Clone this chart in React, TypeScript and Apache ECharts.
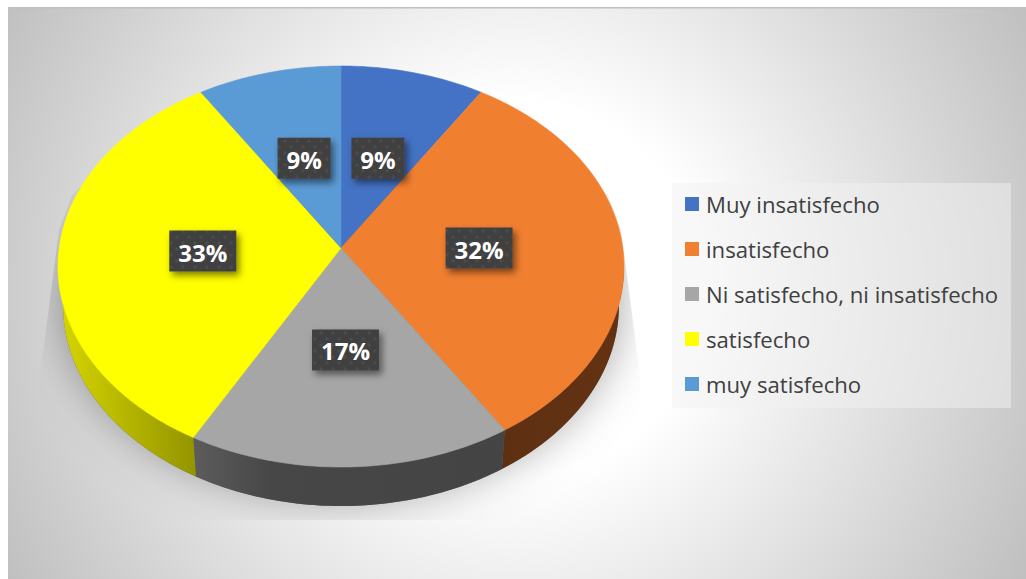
import React, { useEffect, useRef } from "react";
import * as echarts from "echarts";

const categories = [
  "Muy insatisfecho",
  "insatisfecho",
  "Ni satisfecho, ni insatisfecho",
  "satisfecho",
  "muy satisfecho",
];
const percentages = [9, 32, 17, 33, 9];
const sliceColors = ["#4472c4", "#f17f30", "#a6a6a6", "#ffff00", "#5b9bd5"];

// Side wall shading per slice: [start x, end x, stops]; back slices show no wall.
const wallFills: ([number, number, [number, string][]] | null)[] = [
  null,
  [503, 620, [[0, "#5e3012"], [1, "#633213"]]],
  [193, 500, [[0, "#5c5c5c"], [0.25, "#474747"], [1, "#444444"]]],
  [58, 196, [[0, "#d6d600"], [1, "#949400"]]],
  null,
];

// Tilted disc: perspective projection of a unit circle, angles clockwise from the top.
const CX = 341;
const CY = 248;
const SX = 281.8;
const SY = 198.8;
const K = 0.0923;
const DEPTH = 39;
const FLOOR_SCALE = 0.982;
const WALL_FROM = 95.3;
const WALL_TO = 264.7;

function project(deg: number, rho = 1): [number, number] {
  const a = (deg * Math.PI) / 180;
  const u = rho * Math.sin(a);
  const v = -rho * Math.cos(a);
  const w = 1 - K * v;
  return [CX + (SX * u) / w, CY + (SY * v) / w];
}

function floor(p: [number, number]): [number, number] {
  return [CX + (p[0] - CX) * FLOOR_SCALE, p[1] + DEPTH];
}

function arc(from: number, to: number): [number, number][] {
  const n = Math.max(2, Math.ceil(to - from));
  const pts: [number, number][] = [];
  for (let i = 0; i <= n; i++) pts.push(project(from + ((to - from) * i) / n));
  return pts;
}

function dotPattern(): HTMLCanvasElement {
  const c = document.createElement("canvas");
  c.width = 12;
  c.height = 12;
  const g = c.getContext("2d")!;
  g.fillStyle = "#404040";
  g.fillRect(0, 0, 12, 12);
  g.fillStyle = "#4b4b4b";
  for (const [x, y] of [[3, 3], [9, 9]]) {
    g.beginPath();
    g.arc(x, y, 1.8, 0, Math.PI * 2);
    g.fill();
  }
  return c;
}

function buildOption() {
  const total = percentages.reduce((s, v) => s + v, 0);
  const pattern = dotPattern();
  let running = 0;

  const sliceSeries = categories.map((name, idx) => {
    const startDeg = (running / total) * 360;
    running += percentages[idx];
    const endDeg = (running / total) * 360;
    return {
      type: "custom",
      name,
      coordinateSystem: "none",
      silent: true,
      z: 3,
      itemStyle: { color: sliceColors[idx] },
      data: [[percentages[idx]]],
      renderItem: (_p: any, api: any) => {
        const value = api.value(0);
        const children: any[] = [];
        const wall = wallFills[idx];
        if (wall) {
          const from = Math.max(startDeg, WALL_FROM);
          const to = Math.min(endDeg, WALL_TO);
          const upper = arc(from, to);
          const lower = upper.map(floor).reverse();
          const fill = new echarts.graphic.LinearGradient(
            wall[0], 0, wall[1], 0,
            wall[2].map(([offset, color]) => ({ offset, color })),
            true
          );
          children.push({
            type: "polygon",
            shape: { points: [...upper, ...lower] },
            style: { fill },
          });
        }
        children.push({
          type: "polygon",
          shape: { points: [[CX, CY], ...arc(startDeg, endDeg)] },
          style: { fill: sliceColors[idx], stroke: sliceColors[idx], lineWidth: 0.6 },
        });
        const text = `${value}%`;
        const [lx, ly] = project((startDeg + endDeg) / 2, 0.49);
        const bw = text.length > 2 ? 67 : 53;
        const bh = 41;
        children.push({
          type: "rect",
          z2: 10,
          shape: { x: lx - bw / 2, y: ly - bh / 2, width: bw, height: bh },
          style: {
            fill: { image: pattern, repeat: "repeat" },
            shadowBlur: 7,
            shadowOffsetX: 3,
            shadowOffsetY: 4,
            shadowColor: "rgba(0,0,0,0.5)",
          },
        });
        children.push({
          type: "text",
          z2: 11,
          style: {
            x: lx,
            y: ly + 1,
            text,
            fill: "#ffffff",
            font: "bold 24px 'Open Sans'",
            align: "center",
            verticalAlign: "middle",
          },
        });
        return { type: "group", children };
      },
    };
  });

  // Soft cast shadow under the disc, cut off by a trapezoid like a floor plane.
  const shadowSeries = {
    type: "custom",
    name: "base",
    coordinateSystem: "none",
    silent: true,
    z: 2,
    data: [[1]],
    renderItem: () => ({
      type: "group",
      clipPath: {
        type: "polygon",
        shape: {
          points: [
            [110, 160], [72, 195], [59, 230], [40, 375], [40, 520],
            [642, 520], [640, 375], [621, 230], [608, 195], [570, 160],
          ],
        },
      },
      children: [
        {
          type: "polygon",
          shape: { points: arc(0, 360).map(floor) },
          style: {
            fill: "rgba(0,0,0,0.45)",
            shadowBlur: 46,
            shadowOffsetY: -8,
            shadowColor: "rgba(0,0,0,0.85)",
          },
        },
      ],
    }),
  };

  return {
    animation: false,
    graphic: [
      {
        type: "rect",
        z: 0,
        shape: { x: 8, y: 8, width: 1018, height: 571 },
        style: {
          fill: new echarts.graphic.RadialGradient(
            515, 290, 588,
            [
              { offset: 0, color: "#ffffff" },
              { offset: 0.32, color: "#ffffff" },
              { offset: 1, color: "#bfbfbf" },
            ],
            true
          ),
        },
      },
      {
        type: "rect",
        z: 0,
        shape: { x: 8, y: 7, width: 1018, height: 1.5 },
        style: { fill: "#c0c0c0" },
      },
      {
        type: "rect",
        z: 1,
        shape: { x: 672, y: 183, width: 339, height: 225 },
        style: { fill: "rgba(242,242,242,0.5)" },
      },
    ],
    legend: {
      data: categories,
      orient: "vertical",
      left: 685,
      top: 193,
      padding: 0,
      icon: "rect",
      itemWidth: 14,
      itemHeight: 14,
      itemGap: 23,
      selectedMode: false,
      textStyle: {
        color: "#404040",
        fontFamily: "Open Sans",
        fontSize: 22.15,
        padding: [0, 0, 0, 2],
      },
    },
    series: [shadowSeries, ...sliceSeries],
  };
}

export default function App() {
  const ref = useRef<HTMLDivElement>(null);
  useEffect(() => {
    const chart = echarts.init(ref.current!, null, { renderer: "svg" });
    chart.setOption(buildOption() as any);
    return () => chart.dispose();
  }, []);
  return (
    <div
      ref={ref}
      style={{ position: "absolute", left: 0, top: 0, width: 1026, height: 579 }}
    />
  );
}
